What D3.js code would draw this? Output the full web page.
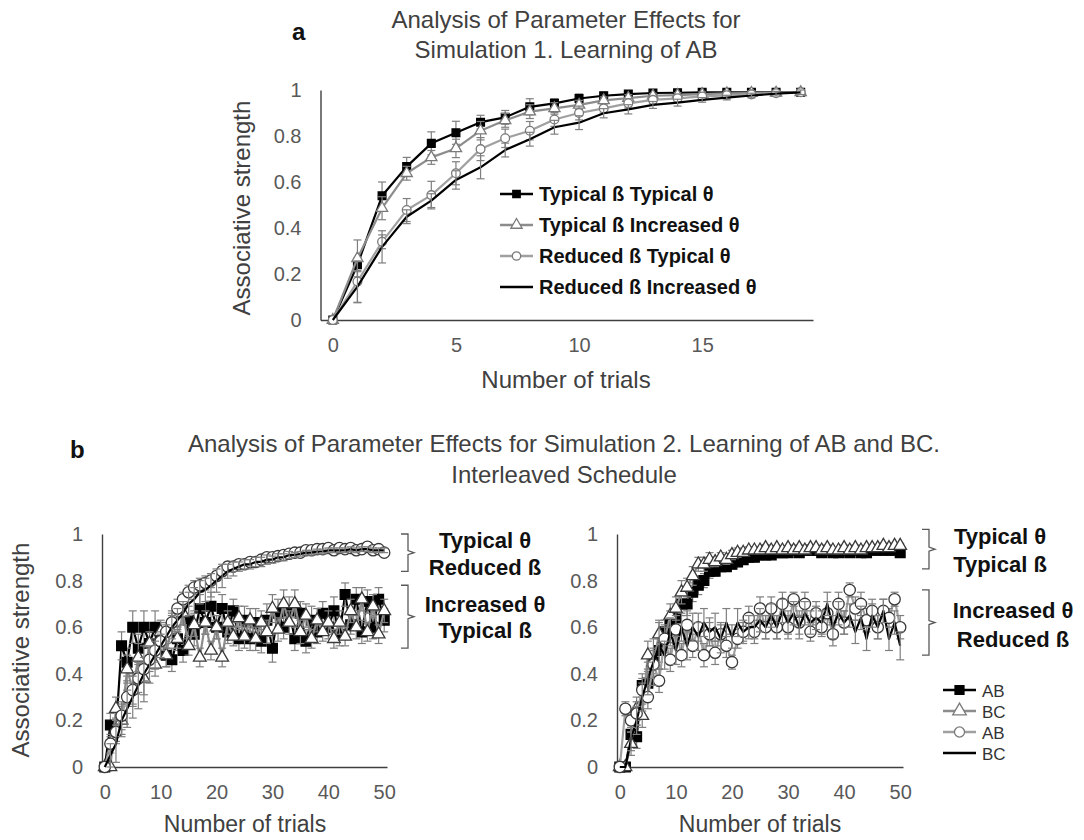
<!DOCTYPE html>
<html>
<head>
<meta charset="utf-8">
<script src="https://cdn.jsdelivr.net/npm/d3@7"></script>
<style>
body { margin: 0; background: #fff; }
svg { display: block; font-family: 'Liberation Sans', Arial, sans-serif; }
</style>
</head>
<body>
<svg id="chart" width="1084" height="840"></svg>
<script>

// ---- panel a : simulation 1, learning of AB ----
let trialsA = [0, 1, 2, 3, 4, 5, 6, 7, 8, 9, 10, 11, 12, 13, 14, 15, 16, 17, 18, 19]

let typBetaTypTheta = [0, 0.24, 0.54, 0.667, 0.768, 0.814, 0.86, 0.881, 0.927, 0.942, 0.963, 0.975, 0.982, 0.987, 0.988, 0.99, 0.99, 0.99, 0.99, 0.99]
let typBetaIncTheta = [0, 0.268, 0.486, 0.638, 0.707, 0.746, 0.823, 0.868, 0.906, 0.92, 0.935, 0.955, 0.965, 0.975, 0.978, 0.982, 0.985, 0.987, 0.988, 0.99]
let redBetaTypTheta = [0, 0.167, 0.34, 0.478, 0.543, 0.638, 0.743, 0.79, 0.823, 0.872, 0.9, 0.92, 0.942, 0.957, 0.964, 0.972, 0.977, 0.981, 0.986, 0.99]
let redBetaIncTheta = [0, 0.145, 0.318, 0.449, 0.519, 0.609, 0.664, 0.739, 0.786, 0.838, 0.858, 0.899, 0.916, 0.935, 0.945, 0.957, 0.967, 0.976, 0.984, 0.99]

let errTypTyp = [0, 0.03, 0.06, 0.04, 0.05, 0.05, 0.03, 0.03, 0.035, 0.02, 0.02, 0.015, 0.015, 0.01, 0.01, 0.01, 0.01, 0.01, 0.01, 0.01]
let errTypInc = [0, 0.08, 0.05, 0.03, 0.03, 0.04, 0.04, 0.03, 0.03, 0.025, 0.02, 0.015, 0.015, 0.01, 0.01, 0.01, 0.01, 0.01, 0.01, 0.01]
let errRedTyp = [0, 0.09, 0.03, 0.05, 0.06, 0.05, 0.05, 0.04, 0.04, 0.03, 0.03, 0.02, 0.02, 0.015, 0.015, 0.01, 0.01, 0.01, 0.01, 0.01]
let errRedInc = [0, 0.07, 0.07, 0.03, 0.03, 0.04, 0.05, 0.03, 0.03, 0.03, 0.03, 0.02, 0.02, 0.015, 0.015, 0.01, 0.01, 0.01, 0.01, 0.01]

let legendA = ['Typical ß  Typical θ', 'Typical ß Increased θ', 'Reduced ß Typical θ', 'Reduced ß Increased θ']

// ---- panel b : simulation 2, interleaved AB / BC ----
let trialsB = [
	0, 1, 2, 3, 4, 5, 6, 7, 8, 9,
	10, 11, 12, 13, 14, 15, 16, 17, 18, 19,
	20, 21, 22, 23, 24, 25, 26, 27, 28, 29,
	30, 31, 32, 33, 34, 35, 36, 37, 38, 39,
	40, 41, 42, 43, 44, 45, 46, 47, 48, 49,
	50]

// left: squares/triangles = Increased θ Typical ß, circles/line = Typical θ Reduced ß
let leftAB1 = [
	0, 0.18, 0.16, 0.52, 0.45, 0.6, 0.51, 0.6, 0.53, 0.6,
	0.56, 0.48, 0.46, 0.55, 0.5, 0.63, 0.57, 0.68, 0.62, 0.69,
	0.6, 0.68, 0.58, 0.67, 0.55, 0.63, 0.55, 0.62, 0.54, 0.63,
	0.51, 0.66, 0.6, 0.67, 0.55, 0.66, 0.54, 0.63, 0.58, 0.66,
	0.6, 0.67, 0.57, 0.74, 0.61, 0.72, 0.58, 0.71, 0.6, 0.72,
	0.63]
let leftBC1 = [
	0, 0, 0.25, 0.2, 0.42, 0.33, 0.47, 0.38, 0.53, 0.44,
	0.58, 0.48, 0.62, 0.55, 0.66, 0.52, 0.61, 0.47, 0.62, 0.5,
	0.6, 0.47, 0.62, 0.56, 0.64, 0.56, 0.63, 0.55, 0.62, 0.58,
	0.68, 0.59, 0.7, 0.62, 0.7, 0.58, 0.65, 0.55, 0.63, 0.58,
	0.62, 0.55, 0.62, 0.56, 0.67, 0.6, 0.72, 0.58, 0.69, 0.57,
	0.67]
let leftAB2 = [
	0, 0.1, 0.15, 0.22, 0.3, 0.33, 0.38, 0.42, 0.46, 0.5,
	0.54, 0.58, 0.62, 0.68, 0.72, 0.75, 0.77, 0.78, 0.79, 0.8,
	0.82, 0.84, 0.86, 0.86, 0.87, 0.87, 0.88, 0.88, 0.89, 0.9,
	0.9, 0.905, 0.91, 0.915, 0.92, 0.92, 0.93, 0.93, 0.935, 0.935,
	0.94, 0.93, 0.94, 0.935, 0.94, 0.93, 0.935, 0.945, 0.93, 0.935,
	0.92]
let leftBC2 = [
	0, 0.05, 0.1, 0.2, 0.25, 0.3, 0.35, 0.4, 0.44, 0.48,
	0.52, 0.56, 0.6, 0.63, 0.66, 0.7, 0.72, 0.75, 0.76, 0.78,
	0.8, 0.82, 0.84, 0.85, 0.86, 0.87, 0.87, 0.88, 0.88, 0.89,
	0.89, 0.9, 0.9, 0.91, 0.91, 0.915, 0.92, 0.92, 0.925, 0.925,
	0.93, 0.93, 0.93, 0.93, 0.935, 0.93, 0.935, 0.935, 0.93, 0.93,
	0.93]

// right: squares/triangles = Typical θ Typical ß, circles/line = Increased θ Reduced ß
let rightAB1 = [
	0, 0, 0.14, 0.13, 0.35, 0.36, 0.45, 0.5, 0.58, 0.62,
	0.64, 0.7, 0.7, 0.75, 0.78, 0.8, 0.84, 0.84, 0.86, 0.86,
	0.87, 0.88, 0.89, 0.9, 0.9, 0.91, 0.91, 0.91, 0.92, 0.92,
	0.92, 0.93, 0.92, 0.93, 0.93, 0.93, 0.92, 0.93, 0.92, 0.92,
	0.93, 0.92, 0.93, 0.92, 0.92, 0.93, 0.93, 0.93, 0.93, 0.93,
	0.92]
let rightBC1 = [
	0, 0, 0.1, 0.25, 0.22, 0.48, 0.45, 0.57, 0.55, 0.65,
	0.68, 0.75, 0.77, 0.82, 0.87, 0.87, 0.89, 0.88, 0.9, 0.89,
	0.91, 0.92, 0.92, 0.93, 0.93, 0.93, 0.94, 0.93, 0.94, 0.93,
	0.94, 0.93, 0.94, 0.93, 0.94, 0.94, 0.93, 0.94, 0.93, 0.93,
	0.94, 0.93, 0.94, 0.93, 0.94, 0.94, 0.94, 0.95, 0.94, 0.95,
	0.95]
let rightAB2 = [
	0, 0.25, 0.2, 0.23, 0.33, 0.3, 0.44, 0.37, 0.55, 0.46,
	0.59, 0.48, 0.61, 0.52, 0.6, 0.48, 0.57, 0.49, 0.57, 0.52,
	0.45, 0.55, 0.58, 0.64, 0.58, 0.68, 0.6, 0.68, 0.6, 0.7,
	0.6, 0.72, 0.62, 0.7, 0.58, 0.66, 0.6, 0.66, 0.57, 0.7,
	0.62, 0.76, 0.68, 0.7, 0.63, 0.67, 0.6, 0.67, 0.64, 0.72,
	0.6]
let rightBC2 = [
	0, 0, 0.12, 0.2, 0.3, 0.38, 0.45, 0.52, 0.48, 0.58,
	0.5, 0.6, 0.52, 0.6, 0.56, 0.62, 0.58, 0.6, 0.55, 0.62,
	0.56, 0.62, 0.58, 0.6, 0.6, 0.63, 0.6, 0.65, 0.6, 0.67,
	0.62, 0.66, 0.6, 0.66, 0.62, 0.64, 0.62, 0.7, 0.6, 0.66,
	0.62, 0.65, 0.58, 0.64, 0.55, 0.65, 0.6, 0.67, 0.55, 0.62,
	0.52]

let errLeftAB1 = [
	0, 0.05, 0.05, 0.06, 0.06, 0.07, 0.06, 0.07, 0.06, 0.07,
	0.06, 0.05, 0.05, 0.05, 0.05, 0.06, 0.05, 0.06, 0.05, 0.06,
	0.05, 0.06, 0.05, 0.05, 0.05, 0.06, 0.05, 0.06, 0.05, 0.07,
	0.06, 0.06, 0.05, 0.06, 0.05, 0.05, 0.05, 0.06, 0.05, 0.05,
	0.05, 0.06, 0.05, 0.05, 0.04, 0.05, 0.05, 0.05, 0.05, 0.05,
	0.05]
let errLeftBC1 = [
	0, 0, 0.05, 0.06, 0.06, 0.07, 0.06, 0.07, 0.05, 0.05,
	0.05, 0.05, 0.05, 0.04, 0.05, 0.04, 0.05, 0.04, 0.05, 0.04,
	0.05, 0.04, 0.05, 0.04, 0.05, 0.05, 0.05, 0.05, 0.05, 0.05,
	0.06, 0.05, 0.06, 0.05, 0.06, 0.05, 0.05, 0.04, 0.05, 0.04,
	0.05, 0.04, 0.05, 0.04, 0.05, 0.05, 0.05, 0.04, 0.05, 0.04,
	0.05]
let errLeftAB2 = [
	0, 0.04, 0.05, 0.06, 0.07, 0.06, 0.06, 0.05, 0.05, 0.05,
	0.04, 0.04, 0.04, 0.04, 0.03, 0.03, 0.03, 0.03, 0.03, 0.03,
	0.02, 0.02, 0.02, 0.02, 0.02, 0.02, 0.015, 0.015, 0.015, 0.015,
	0.015, 0.015, 0.01, 0.01, 0.01, 0.01, 0.01, 0.01, 0.01, 0.01,
	0.01, 0.01, 0.01, 0.01, 0.01, 0.01, 0.01, 0.01, 0.01, 0.01,
	0.01]
let errLeftBC2 = [
	0, 0.05, 0.08, 0.07, 0.08, 0.09, 0.1, 0.12, 0.08, 0.06,
	0.05, 0.05, 0.05, 0.05, 0.05, 0.05, 0.05, 0.05, 0.05, 0.05,
	0.05, 0.05, 0.03, 0.03, 0.02, 0.02, 0.02, 0.02, 0.02, 0.02,
	0.015, 0.015, 0.015, 0.015, 0.01, 0.01, 0.01, 0.01, 0.01, 0.01,
	0.01, 0.01, 0.01, 0.01, 0.01, 0.01, 0.01, 0.01, 0.01, 0.01,
	0.01]
let errRightAB1 = [
	0, 0, 0.04, 0.05, 0.05, 0.05, 0.05, 0.05, 0.05, 0.05,
	0.05, 0.05, 0.05, 0.04, 0.04, 0.03, 0.03, 0.02, 0.02, 0.02,
	0.02, 0.02, 0.02, 0.015, 0.015, 0.015, 0.015, 0.015, 0.01, 0.01,
	0.01, 0.01, 0.01, 0.01, 0.01, 0.01, 0.01, 0.01, 0.01, 0.01,
	0.01, 0.01, 0.01, 0.01, 0.01, 0.01, 0.01, 0.01, 0.01, 0.01,
	0.01]
let errRightBC1 = [
	0, 0, 0.05, 0.05, 0.05, 0.06, 0.06, 0.06, 0.05, 0.05,
	0.05, 0.05, 0.04, 0.04, 0.03, 0.03, 0.03, 0.02, 0.02, 0.02,
	0.02, 0.02, 0.015, 0.015, 0.015, 0.015, 0.015, 0.01, 0.01, 0.01,
	0.01, 0.01, 0.01, 0.01, 0.01, 0.01, 0.01, 0.01, 0.01, 0.01,
	0.01, 0.01, 0.01, 0.01, 0.01, 0.01, 0.01, 0.01, 0.01, 0.01,
	0.01]
let errRightAB2 = [
	0, 0.03, 0.05, 0.05, 0.05, 0.05, 0.06, 0.05, 0.06, 0.05,
	0.06, 0.05, 0.06, 0.05, 0.06, 0.05, 0.05, 0.05, 0.05, 0.05,
	0.03, 0.04, 0.04, 0.05, 0.05, 0.05, 0.05, 0.05, 0.05, 0.05,
	0.05, 0.03, 0.05, 0.05, 0.04, 0.05, 0.04, 0.05, 0.05, 0.05,
	0.05, 0.03, 0.05, 0.05, 0.05, 0.05, 0.05, 0.05, 0.04, 0.03,
	0.05]
let errRightBC2 = [
	0, 0, 0.05, 0.06, 0.06, 0.07, 0.1, 0.1, 0.06, 0.06,
	0.06, 0.06, 0.06, 0.06, 0.06, 0.06, 0.06, 0.06, 0.06, 0.06,
	0.05, 0.06, 0.05, 0.05, 0.05, 0.05, 0.05, 0.05, 0.05, 0.05,
	0.05, 0.05, 0.05, 0.05, 0.05, 0.05, 0.05, 0.05, 0.05, 0.05,
	0.05, 0.05, 0.05, 0.05, 0.05, 0.05, 0.05, 0.05, 0.05, 0.05,
	0.06]

let legendB = ['AB', 'BC', 'AB', 'BC']
let yTicks = [0, 0.2, 0.4, 0.6, 0.8, 1]

let svg = d3.select('#chart')

let titleColor = '#404040'
let tickColor = '#595959'
let greyLine = '#8c8c8c'

// marker styles per series kind
let styles = {
	square : {symbol : d3.symbolSquare, fill : '#000', stroke : '#000', line : '#000'},
	triangle : {symbol : d3.symbolTriangle, fill : '#fff', stroke : '#7a7a7a', line : greyLine},
	circle : {symbol : d3.symbolCircle, fill : '#fff', stroke : '#7a7a7a', line : '#a0a0a0'},
	plain : {symbol : null, fill : 'none', stroke : 'none', line : '#000'}
}

let drawPlot = cfg => {

	let x = d3.scaleLinear().domain(cfg.xDomain).range(cfg.xRange)
	let y = d3.scaleLinear().domain([0, 1]).range(cfg.yRange)

	let g = svg.append('g')

	let xAxis = g.append('g')
		.attr('transform', `translate(0,${y(0)})`)
		.call(d3.axisBottom(x).tickValues(cfg.xTicks).tickSize(0).tickSizeOuter(0).tickPadding(18))

	let yAxis = g.append('g')
		.attr('transform', `translate(${cfg.xRange[0]},0)`)
		.call(d3.axisLeft(y).tickValues(yTicks).tickFormat(d3.format('~g')).tickSize(0).tickSizeOuter(0).tickPadding(19))

	;[xAxis, yAxis].forEach(a => {
		a.select('.domain').attr('stroke', '#404040').attr('stroke-width', 1.4)
		a.selectAll('text')
			.attr('fill', tickColor)
			.attr('font-size', 20)
			.attr('font-family', 'Liberation Sans, Arial, sans-serif')
	})

	let lineGen = d3.line()
		.x((d, i) => x(cfg.trials[i]))
		.y(d => y(d))

	cfg.series.forEach(s => {
		let st = styles[s.kind]
		let sg = g.append('g')

		sg.append('path')
			.attr('d', lineGen(s.values))
			.attr('fill', 'none')
			.attr('stroke', st.line)
			.attr('stroke-width', 2.2)
			.attr('stroke-linejoin', 'round')

		// error bars
		let bars = s.values.map((v, i) => ({x : cfg.trials[i], v, e : s.errs[i]})).filter(d => d.e > 0)
		let eb = sg.selectAll('.err')
			.data(bars)
			.enter()
			.append('g')
			.attr('stroke', '#7f7f7f')
			.attr('stroke-width', 1.2)
		eb.append('line')
			.attr('x1', d => x(d.x)).attr('x2', d => x(d.x))
			.attr('y1', d => y(d.v - d.e)).attr('y2', d => y(d.v + d.e))
		eb.append('line')
			.attr('x1', d => x(d.x) - cfg.cap).attr('x2', d => x(d.x) + cfg.cap)
			.attr('y1', d => y(d.v + d.e)).attr('y2', d => y(d.v + d.e))
		eb.append('line')
			.attr('x1', d => x(d.x) - cfg.cap).attr('x2', d => x(d.x) + cfg.cap)
			.attr('y1', d => y(d.v - d.e)).attr('y2', d => y(d.v - d.e))

		if(st.symbol) {
			sg.selectAll('.mark')
				.data(s.values)
				.enter()
				.append('path')
				.attr('d', d3.symbol().type(st.symbol).size(cfg.sizes[s.kind]))
				.attr('transform', (d, i) => `translate(${x(cfg.trials[i])},${y(d)})`)
				.attr('fill', st.fill)
				.attr('stroke', cfg.markStroke && s.kind !== 'square' ? cfg.markStroke : st.stroke)
				.attr('stroke-width', 1.3)
		}
	})

	return {x, y}
}

let drawLegendRow = (x0, yc, kind, label, size, textAttrs) => {
	let st = styles[kind]
	svg.append('line')
		.attr('x1', x0).attr('x2', x0 + 33)
		.attr('y1', yc).attr('y2', yc)
		.attr('stroke', st.line)
		.attr('stroke-width', 2.4)
	if(st.symbol) {
		svg.append('path')
			.attr('d', d3.symbol().type(st.symbol).size(size)())
			.attr('transform', `translate(${x0 + 16.5},${yc})`)
			.attr('fill', st.fill)
			.attr('stroke', st.stroke)
			.attr('stroke-width', 1.3)
	}
	let t = svg.append('text')
		.attr('x', x0 + 39)
		.attr('y', yc + 7)
		.text(label)
	Object.entries(textAttrs).forEach(([k, v]) => t.attr(k, v))
}

let addText = (x, y, txt, size, weight, fill, anchor) => svg.append('text')
	.attr('x', x)
	.attr('y', y)
	.attr('font-size', size)
	.attr('font-weight', weight)
	.attr('fill', fill)
	.attr('text-anchor', anchor)
	.text(txt)

// ---------------- panel a ----------------
let pa = drawPlot({
	trials : trialsA,
	xDomain : [-0.5, 19.5],
	xRange : [320.5, 813],
	yRange : [320, 90],
	xTicks : [0, 5, 10, 15],
	cap : 4,
	sizes : {square : 60, triangle : 55, circle : 60},
	series : [
		{kind : 'square', values : typBetaTypTheta, errs : errTypTyp},
		{kind : 'triangle', values : typBetaIncTheta, errs : errTypInc},
		{kind : 'circle', values : redBetaTypTheta, errs : errRedTyp},
		{kind : 'plain', values : redBetaIncTheta, errs : errRedInc}
	]
})

addText(292, 40, 'a', 24, 'bold', '#111', 'start')
addText(566, 28, 'Analysis of Parameter Effects for', 24, 'normal', titleColor, 'middle')
addText(566, 58, 'Simulation 1. Learning of AB', 24, 'normal', titleColor, 'middle')
addText(566, 388, 'Number of trials', 24, 'normal', titleColor, 'middle')
addText(0, 0, 'Associative strength', 24, 'normal', titleColor, 'middle')
	.attr('transform', 'translate(250,208) rotate(-90)')

;['square', 'triangle', 'circle', 'plain'].forEach((k, i) => {
	drawLegendRow(500, 194 + i * 31, k, legendA[i], 55, {
		'font-size' : 20, 'font-weight' : 'bold', 'fill' : '#111'
	})
})

// ---------------- panel b ----------------
let cfgB = {
	trials : trialsB,
	xDomain : [-0.5, 50.5],
	yRange : [767, 534],
	xTicks : [0, 10, 20, 30, 40, 50],
	cap : 4,
	markStroke : '#3a3a3a',
	sizes : {square : 95, triangle : 70, circle : 100}
}

let left = drawPlot(Object.assign({}, cfgB, {
	xRange : [102, 387],
	series : [
		{kind : 'square', values : leftAB1, errs : errLeftAB1},
		{kind : 'triangle', values : leftBC1, errs : errLeftBC1},
		{kind : 'circle', values : leftAB2, errs : errLeftAB2},
		{kind : 'plain', values : leftBC2, errs : errLeftBC2}
	]
}))

let right = drawPlot(Object.assign({}, cfgB, {
	xRange : [617, 903],
	series : [
		{kind : 'square', values : rightAB1, errs : errRightAB1},
		{kind : 'triangle', values : rightBC1, errs : errRightBC1},
		{kind : 'circle', values : rightAB2, errs : errRightAB2},
		{kind : 'plain', values : rightBC2, errs : errRightBC2}
	]
}))

addText(70, 458, 'b', 24, 'bold', '#111', 'start')
addText(564, 452, 'Analysis of Parameter Effects for Simulation 2. Learning of AB and BC.', 24, 'normal', titleColor, 'middle')
addText(564, 483, 'Interleaved Schedule', 24, 'normal', titleColor, 'middle')
addText(245, 832, 'Number of trials', 23, 'normal', titleColor, 'middle')
addText(760, 832, 'Number of trials', 23, 'normal', titleColor, 'middle')
addText(0, 0, 'Associative strength', 24, 'normal', titleColor, 'middle')
	.attr('transform', 'translate(29,650) rotate(-90)')

// curly brackets grouping the parameter settings
let bracket = (x0, top, bottom) => {
	let mid = (top + bottom) / 2
	svg.append('path')
		.attr('d', `M${x0},${top} H${x0 + 7} V${mid - 2} L${x0 + 13},${mid} L${x0 + 7},${mid + 2} V${bottom} H${x0}`)
		.attr('fill', 'none')
		.attr('stroke', '#595959')
		.attr('stroke-width', 1.3)
}

bracket(401, left.y(1.0), left.y(0.84))
bracket(401, left.y(0.78), left.y(0.51))
bracket(922, right.y(1.02), right.y(0.85))
bracket(922, right.y(0.76), right.y(0.48))

addText(485, 548, 'Typical θ', 22, 'bold', '#111', 'middle')
addText(485, 575, 'Reduced ß', 22, 'bold', '#111', 'middle')
addText(485, 612, 'Increased θ', 22, 'bold', '#111', 'middle')
addText(485, 638, 'Typical ß', 22, 'bold', '#111', 'middle')

addText(1000, 544, 'Typical θ', 22, 'bold', '#111', 'middle')
addText(1000, 572, 'Typical ß', 22, 'bold', '#111', 'middle')
addText(1013, 618, 'Increased θ', 22, 'bold', '#111', 'middle')
addText(1013, 647, 'Reduced ß', 22, 'bold', '#111', 'middle')

;['square', 'triangle', 'circle', 'plain'].forEach((k, i) => {
	drawLegendRow(943, 690 + i * 21, k, legendB[i], 80, {
		'font-size' : 17, 'fill' : '#333'
	})
})

</script>
</body>
</html>
